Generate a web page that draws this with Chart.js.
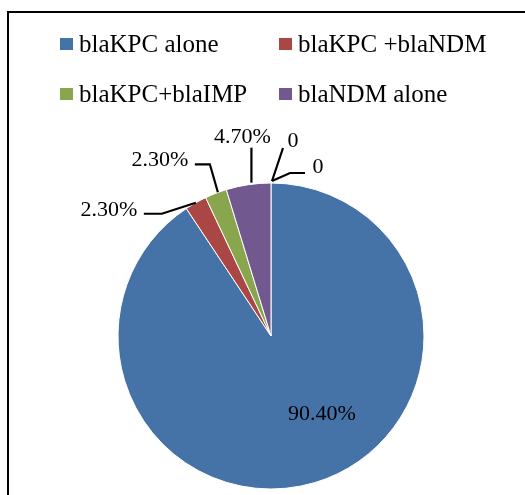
<!DOCTYPE html>
<html>
<head>
<meta charset="utf-8">
<script src="https://cdn.jsdelivr.net/npm/chart.js@4.4.1/dist/chart.umd.min.js"></script>
<style>
  html, body { margin: 0; padding: 0; background: #fff; }
  #wrap { position: relative; width: 525px; height: 495px; }
</style>
</head>
<body>
<div id="wrap"><canvas id="pieChart"></canvas></div>
<script>
/* ============================
   DATA
============================ */
const categories = ["blaKPC alone", "blaKPC +blaNDM", "blaKPC+blaIMP", "blaNDM alone", "blaIMP alone", "blaNDM+blaIMP"];
const shares = [90.4, 2.3, 2.3, 4.7, 0, 0];
const sliceColors = ["#4572A7", "#AA4643", "#89A54E", "#71588F", "#4198AF", "#DB843D"];
const legendCount = 4; // only the first four show in the legend

const SERIF = '"Liberation Serif", "Times New Roman", serif';

/* ============================
   LABEL PLACEMENT (offsets from slice edge point)
============================ */
const labelPlaces = [
  { inside: true, text: [51, 84] },
  { path: [[0, 0], [-34, 11], [-52, 11]], text: [-87, 13] },
  { path: [[2, -1], [-6, -29], [-21, -29]], text: [-56, -27] },
  { path: [[3, -2], [3, -37]], text: [-6, -42] },
  { path: [[1, -2], [12, -35]], text: [22, -36] },
  { path: [[1, -2], [19, -10], [34, -10]], text: [47, -10] }
];

function fmt(v){
  return v === 0 ? "0" : v.toFixed(2) + "%";
}

/* ============================
   PLUGINS
============================ */
const frame = {
  id: "frame",
  beforeDraw(chart){
    const ctx = chart.ctx;
    ctx.save();
    ctx.fillStyle = "#fff";
    ctx.fillRect(0, 0, chart.width, chart.height);
    ctx.strokeStyle = "#000";
    ctx.lineWidth = 2;
    ctx.beginPath();
    ctx.moveTo(8, chart.height);
    ctx.lineTo(8, 12);
    ctx.lineTo(chart.width, 12);
    ctx.stroke();
    ctx.restore();
  }
};

const gridLegend = {
  id: "gridLegend",
  afterDraw(chart){
    const ctx = chart.ctx;
    const colX = [60, 279];
    const rowY = [38, 88];
    ctx.save();
    ctx.font = "25px " + SERIF;
    ctx.textAlign = "left";
    ctx.textBaseline = "alphabetic";
    for(let i = 0; i < legendCount; i++){
      const x = colX[i % 2];
      const y = rowY[Math.floor(i / 2)];
      ctx.fillStyle = chart.data.datasets[0].backgroundColor[i];
      ctx.fillRect(x, y, 13, 12);
      ctx.fillStyle = "#000";
      ctx.fillText(chart.data.labels[i], x + 19, y + 14);
    }
    ctx.restore();
  }
};

const leaderLabels = {
  id: "leaderLabels",
  afterDatasetsDraw(chart){
    const ctx = chart.ctx;
    const meta = chart.getDatasetMeta(0);
    ctx.save();
    ctx.font = "22px " + SERIF;
    ctx.fillStyle = "#000";
    ctx.strokeStyle = "#000";
    ctx.lineWidth = 2.2;
    ctx.textAlign = "center";
    ctx.textBaseline = "alphabetic";

    meta.data.forEach((arc, i) => {
      const p = arc.getProps(["x", "y", "startAngle", "endAngle", "outerRadius"], true);
      const place = labelPlaces[i];
      const text = fmt(shares[i]);

      if(place.inside){
        ctx.fillText(text, p.x + place.text[0], p.y + place.text[1]);
        return;
      }

      const mid = (p.startAngle + p.endAngle) / 2;
      const ex = p.x + Math.cos(mid) * p.outerRadius;
      const ey = p.y + Math.sin(mid) * p.outerRadius;

      ctx.beginPath();
      place.path.forEach(([dx, dy], k) => {
        if(k === 0) ctx.moveTo(ex + dx, ey + dy);
        else ctx.lineTo(ex + dx, ey + dy);
      });
      ctx.stroke();
      ctx.fillText(text, ex + place.text[0], ey + place.text[1]);
    });
    ctx.restore();
  }
};

/* ============================
   CHART
============================ */
function drawChart(){
  new Chart(document.getElementById("pieChart"), {
    type: "pie",
    data: {
      labels: categories,
      datasets: [{
        data: shares,
        backgroundColor: sliceColors,
        borderColor: "#ffffff",
        borderWidth: 1
      }]
    },
    options: {
      responsive: true,
      maintainAspectRatio: false,
      animation: false,
      radius: 153,
      layout: {
        padding: { left: 17, right: 0, top: 177, bottom: 0 }
      },
      plugins: {
        legend: { display: false },
        tooltip: { enabled: false }
      }
    },
    plugins: [frame, gridLegend, leaderLabels]
  });
}

Promise.all([
  document.fonts.load("25px " + SERIF, "blaKPC"),
  document.fonts.load("22px " + SERIF, "90.40%")
]).then(drawChart, drawChart);
</script>
</body>
</html>
